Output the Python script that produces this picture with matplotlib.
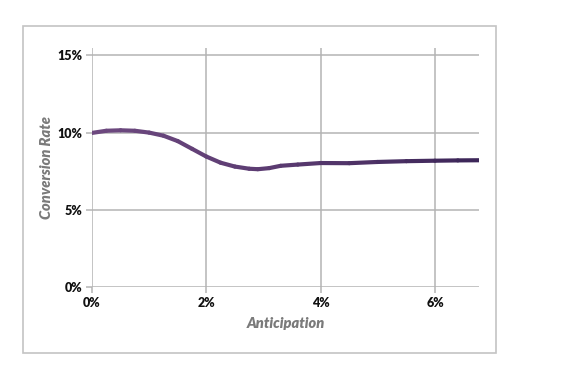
import matplotlib.pyplot as plt
import numpy as np
from matplotlib.collections import LineCollection
from matplotlib.colors import LinearSegmentedColormap
from matplotlib.patches import Rectangle

# values (percent)
anticipation = [0.0, 0.25, 0.5, 0.75, 1.0, 1.25, 1.5, 1.75, 2.0, 2.25, 2.5, 2.75,
                2.9, 3.1, 3.3, 3.6, 4.0, 4.5, 5.0, 5.5, 6.0, 6.4, 6.77]
conversion = [9.98, 10.12, 10.15, 10.12, 10.0, 9.8, 9.45, 8.95, 8.45, 8.05, 7.8, 7.66,
              7.63, 7.7, 7.85, 7.93, 8.03, 8.02, 8.1, 8.15, 8.18, 8.2, 8.21]
x_ticks = [0, 2, 4, 6]
x_tick_labels = ["0%", "2%", "4%", "6%"]
y_ticks = [0, 5, 10, 15]
y_tick_labels = ["0%", "5%", "10%", "15%"]

GRID = "#b4b4b4"
LABEL_GRAY = "#7a7a7a"

fig = plt.figure(figsize=(5.69, 3.72), dpi=100)
fig.patch.set_facecolor("white")
fig.add_artist(Rectangle((23 / 569, 1 - 353 / 372), 473 / 569, 327 / 372,
                         transform=fig.transFigure, fill=False,
                         edgecolor="#c4c4c4", linewidth=1.2))

ax = fig.add_axes([92 / 569, 1 - 287 / 372, 387 / 569, (287 - 47.7) / 372])
ax.set_xlim(0, 6.77)
ax.set_ylim(0, 15.5)
for s in ax.spines.values():
    s.set_visible(False)

ax.set_xticks(x_ticks)
ax.set_xticklabels(x_tick_labels)
ax.set_yticks(y_ticks)
ax.set_yticklabels(y_tick_labels)
ax.grid(True, color=GRID, linewidth=1.1)
ax.set_axisbelow(True)
ax.tick_params(length=4, width=1.1, color=GRID, pad=3, labelsize=9)
for lab in ax.get_xticklabels() + ax.get_yticklabels():
    lab.set_fontweight("heavy")
    lab.set_family("Lato")
    lab.set_color("#111111")

# gradient line, lighter purple on the left to dark blue-purple on the right
cmap = LinearSegmentedColormap.from_list("purp", ["#6e4a80", "#5a3a70", "#3c2658"])
x = np.array(anticipation)
y = np.array(conversion)
pts = np.column_stack([x, y]).reshape(-1, 1, 2)
segs = np.concatenate([pts[:-1], pts[1:]], axis=1)
lc = LineCollection(segs, cmap=cmap, linewidth=3.0, capstyle="round", joinstyle="round")
lc.set_array((x[:-1] + x[1:]) / 2)
lc.set_clim(0, 6.77)
ax.add_collection(lc)

ax.set_xlabel("Anticipation", fontsize=10.5, style="italic", fontweight="heavy",
              color=LABEL_GRAY, family="Lato", labelpad=6)
ax.set_ylabel("Conversion Rate", fontsize=10.5, style="italic", fontweight="heavy",
              color=LABEL_GRAY, family="Lato", labelpad=3)

fig.savefig("out.png", dpi=100)
